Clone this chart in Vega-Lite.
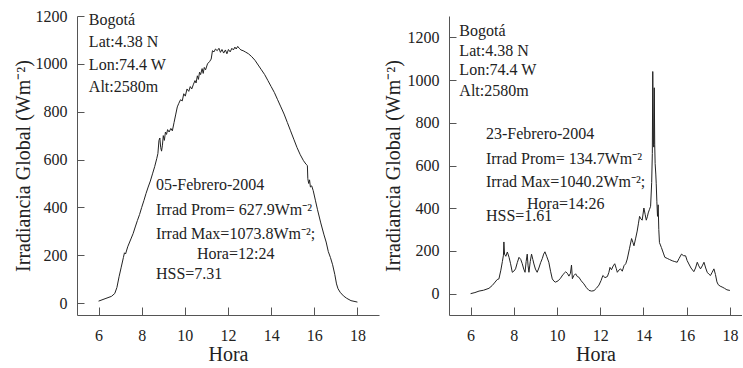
{
  "$schema": "https://vega.github.io/schema/vega-lite/v6.json",
  "padding": {"left": 13, "top": 8, "right": 0, "bottom": 0},
  "spacing": 4,
  "config": {
    "view": {"stroke": null},
    "font": "Liberation Serif",
    "axis": {
      "grid": false,
      "domainColor": "#555",
      "tickColor": "#555",
      "labelColor": "#222",
      "titleColor": "#222",
      "labelFont": "Liberation Serif",
      "titleFont": "Liberation Serif",
      "labelFontSize": 16,
      "titleFontSize": 20,
      "titleFontWeight": "normal",
      "tickSize": {"condition": {"test": "datum.value % 200 === 0", "value": -7}, "value": -4}
    }
  },
  "datasets": {
    "feb05": [
      {"hora": 6.0, "irr": 8}, {"hora": 6.3, "irr": 18}, {"hora": 6.6, "irr": 28}, {"hora": 6.75, "irr": 40},
      {"hora": 6.85, "irr": 65}, {"hora": 6.95, "irr": 110}, {"hora": 7.05, "irr": 150}, {"hora": 7.15, "irr": 190},
      {"hora": 7.2, "irr": 210}, {"hora": 7.25, "irr": 205}, {"hora": 7.35, "irr": 235}, {"hora": 7.5, "irr": 268},
      {"hora": 7.6, "irr": 290}, {"hora": 7.7, "irr": 318}, {"hora": 7.8, "irr": 345}, {"hora": 7.9, "irr": 370},
      {"hora": 8.0, "irr": 400}, {"hora": 8.1, "irr": 428}, {"hora": 8.2, "irr": 458}, {"hora": 8.3, "irr": 485},
      {"hora": 8.4, "irr": 510}, {"hora": 8.5, "irr": 540}, {"hora": 8.6, "irr": 570}, {"hora": 8.7, "irr": 605},
      {"hora": 8.75, "irr": 625}, {"hora": 8.8, "irr": 680}, {"hora": 8.84, "irr": 690}, {"hora": 8.88, "irr": 650},
      {"hora": 8.92, "irr": 635}, {"hora": 8.96, "irr": 660}, {"hora": 9.0, "irr": 700}, {"hora": 9.05, "irr": 680},
      {"hora": 9.1, "irr": 715}, {"hora": 9.15, "irr": 705}, {"hora": 9.2, "irr": 725}, {"hora": 9.27, "irr": 715},
      {"hora": 9.35, "irr": 730}, {"hora": 9.42, "irr": 720}, {"hora": 9.5, "irr": 755}, {"hora": 9.58, "irr": 790},
      {"hora": 9.65, "irr": 820}, {"hora": 9.72, "irr": 835}, {"hora": 9.8, "irr": 850}, {"hora": 9.88, "irr": 845},
      {"hora": 9.95, "irr": 875}, {"hora": 10.02, "irr": 865}, {"hora": 10.1, "irr": 895}, {"hora": 10.18, "irr": 885},
      {"hora": 10.25, "irr": 905}, {"hora": 10.32, "irr": 895}, {"hora": 10.4, "irr": 915}, {"hora": 10.47, "irr": 930},
      {"hora": 10.52, "irr": 920}, {"hora": 10.58, "irr": 950}, {"hora": 10.63, "irr": 935}, {"hora": 10.68, "irr": 965},
      {"hora": 10.73, "irr": 955}, {"hora": 10.8, "irr": 980}, {"hora": 10.85, "irr": 960}, {"hora": 10.9, "irr": 985},
      {"hora": 10.96, "irr": 975}, {"hora": 11.05, "irr": 1000}, {"hora": 11.15, "irr": 1010}, {"hora": 11.22, "irr": 1020},
      {"hora": 11.28, "irr": 1055}, {"hora": 11.35, "irr": 1050}, {"hora": 11.42, "irr": 1062}, {"hora": 11.5, "irr": 1055},
      {"hora": 11.58, "irr": 1065}, {"hora": 11.65, "irr": 1048}, {"hora": 11.72, "irr": 1060}, {"hora": 11.8, "irr": 1045},
      {"hora": 11.88, "irr": 1058}, {"hora": 11.95, "irr": 1042}, {"hora": 12.02, "irr": 1060}, {"hora": 12.1, "irr": 1050},
      {"hora": 12.18, "irr": 1065}, {"hora": 12.25, "irr": 1058}, {"hora": 12.32, "irr": 1070}, {"hora": 12.38, "irr": 1062},
      {"hora": 12.45, "irr": 1073}, {"hora": 12.52, "irr": 1065}, {"hora": 12.6, "irr": 1058}, {"hora": 12.7, "irr": 1055},
      {"hora": 12.8, "irr": 1050}, {"hora": 12.95, "irr": 1042}, {"hora": 13.1, "irr": 1030}, {"hora": 13.25, "irr": 1015},
      {"hora": 13.4, "irr": 995}, {"hora": 13.55, "irr": 975}, {"hora": 13.7, "irr": 955}, {"hora": 13.85, "irr": 930},
      {"hora": 14.0, "irr": 905}, {"hora": 14.15, "irr": 880}, {"hora": 14.3, "irr": 850}, {"hora": 14.45, "irr": 820},
      {"hora": 14.6, "irr": 790}, {"hora": 14.75, "irr": 755}, {"hora": 14.9, "irr": 720}, {"hora": 15.05, "irr": 685},
      {"hora": 15.2, "irr": 650}, {"hora": 15.35, "irr": 620}, {"hora": 15.5, "irr": 595}, {"hora": 15.62, "irr": 580},
      {"hora": 15.68, "irr": 575}, {"hora": 15.7, "irr": 520}, {"hora": 15.74, "irr": 500}, {"hora": 15.78, "irr": 515},
      {"hora": 15.82, "irr": 485}, {"hora": 15.88, "irr": 490}, {"hora": 15.95, "irr": 470}, {"hora": 16.05, "irr": 430},
      {"hora": 16.15, "irr": 390}, {"hora": 16.3, "irr": 335}, {"hora": 16.45, "irr": 285}, {"hora": 16.55, "irr": 255},
      {"hora": 16.65, "irr": 215}, {"hora": 16.75, "irr": 190}, {"hora": 16.85, "irr": 160}, {"hora": 16.95, "irr": 120},
      {"hora": 17.03, "irr": 80}, {"hora": 17.1, "irr": 60}, {"hora": 17.2, "irr": 45}, {"hora": 17.35, "irr": 30},
      {"hora": 17.5, "irr": 20}, {"hora": 17.7, "irr": 10}, {"hora": 18.0, "irr": 4}
    ],
    "feb23": [
      {"hora": 6.0, "irr": 0}, {"hora": 6.2, "irr": 5}, {"hora": 6.39, "irr": 12}, {"hora": 6.6, "irr": 16},
      {"hora": 6.85, "irr": 25}, {"hora": 7.0, "irr": 38}, {"hora": 7.1, "irr": 50}, {"hora": 7.23, "irr": 66},
      {"hora": 7.31, "irr": 69}, {"hora": 7.4, "irr": 110}, {"hora": 7.47, "irr": 150}, {"hora": 7.52, "irr": 180},
      {"hora": 7.54, "irr": 242}, {"hora": 7.57, "irr": 185}, {"hora": 7.63, "irr": 175}, {"hora": 7.7, "irr": 195},
      {"hora": 7.78, "irr": 170}, {"hora": 7.85, "irr": 140}, {"hora": 7.93, "irr": 100}, {"hora": 8.0, "irr": 105},
      {"hora": 8.08, "irr": 116}, {"hora": 8.16, "irr": 145}, {"hora": 8.24, "irr": 170}, {"hora": 8.32, "irr": 160},
      {"hora": 8.39, "irr": 140}, {"hora": 8.46, "irr": 115}, {"hora": 8.52, "irr": 100}, {"hora": 8.57, "irr": 150},
      {"hora": 8.62, "irr": 185}, {"hora": 8.66, "irr": 130}, {"hora": 8.7, "irr": 100}, {"hora": 8.76, "irr": 150},
      {"hora": 8.82, "irr": 185}, {"hora": 8.88, "irr": 160}, {"hora": 8.93, "irr": 139}, {"hora": 9.0, "irr": 115},
      {"hora": 9.08, "irr": 100}, {"hora": 9.16, "irr": 120}, {"hora": 9.24, "irr": 145}, {"hora": 9.32, "irr": 165},
      {"hora": 9.38, "irr": 185}, {"hora": 9.44, "irr": 196}, {"hora": 9.52, "irr": 175}, {"hora": 9.62, "irr": 147},
      {"hora": 9.7, "irr": 105}, {"hora": 9.78, "irr": 69}, {"hora": 9.86, "irr": 58}, {"hora": 9.93, "irr": 54},
      {"hora": 10.05, "irr": 60}, {"hora": 10.16, "irr": 72}, {"hora": 10.28, "irr": 90}, {"hora": 10.4, "irr": 102},
      {"hora": 10.48, "irr": 95}, {"hora": 10.55, "irr": 82}, {"hora": 10.62, "irr": 95}, {"hora": 10.67, "irr": 134},
      {"hora": 10.71, "irr": 70}, {"hora": 10.78, "irr": 85}, {"hora": 10.86, "irr": 93}, {"hora": 10.94, "irr": 80},
      {"hora": 11.01, "irr": 77}, {"hora": 11.12, "irr": 60}, {"hora": 11.24, "irr": 46}, {"hora": 11.36, "irr": 28},
      {"hora": 11.48, "irr": 15}, {"hora": 11.6, "irr": 12}, {"hora": 11.71, "irr": 14}, {"hora": 11.82, "irr": 25},
      {"hora": 11.94, "irr": 40}, {"hora": 12.04, "irr": 62}, {"hora": 12.12, "irr": 85}, {"hora": 12.22, "irr": 75},
      {"hora": 12.33, "irr": 80}, {"hora": 12.4, "irr": 100}, {"hora": 12.45, "irr": 123}, {"hora": 12.52, "irr": 112},
      {"hora": 12.6, "irr": 130}, {"hora": 12.67, "irr": 140}, {"hora": 12.74, "irr": 118}, {"hora": 12.79, "irr": 100},
      {"hora": 12.86, "irr": 110}, {"hora": 12.94, "irr": 116}, {"hora": 13.02, "irr": 105}, {"hora": 13.1, "irr": 131},
      {"hora": 13.18, "irr": 140}, {"hora": 13.25, "irr": 162}, {"hora": 13.35, "irr": 210}, {"hora": 13.45, "irr": 258},
      {"hora": 13.51, "irr": 240}, {"hora": 13.56, "irr": 224}, {"hora": 13.64, "irr": 260}, {"hora": 13.71, "irr": 293},
      {"hora": 13.77, "irr": 330}, {"hora": 13.82, "irr": 362}, {"hora": 13.88, "irr": 350}, {"hora": 13.94, "irr": 344},
      {"hora": 14.02, "irr": 401}, {"hora": 14.08, "irr": 370}, {"hora": 14.13, "irr": 344}, {"hora": 14.18, "irr": 360},
      {"hora": 14.22, "irr": 378}, {"hora": 14.28, "irr": 395}, {"hora": 14.33, "irr": 409}, {"hora": 14.38, "irr": 520},
      {"hora": 14.41, "irr": 656}, {"hora": 14.43, "irr": 1040}, {"hora": 14.46, "irr": 700}, {"hora": 14.48, "irr": 686},
      {"hora": 14.5, "irr": 964}, {"hora": 14.52, "irr": 700}, {"hora": 14.54, "irr": 609}, {"hora": 14.57, "irr": 560},
      {"hora": 14.59, "irr": 517}, {"hora": 14.62, "irr": 430}, {"hora": 14.65, "irr": 362}, {"hora": 14.68, "irr": 416},
      {"hora": 14.71, "irr": 300}, {"hora": 14.74, "irr": 239}, {"hora": 14.83, "irr": 216}, {"hora": 14.92, "irr": 190},
      {"hora": 14.99, "irr": 170}, {"hora": 15.1, "irr": 165}, {"hora": 15.2, "irr": 160}, {"hora": 15.33, "irr": 154},
      {"hora": 15.45, "irr": 150}, {"hora": 15.56, "irr": 147}, {"hora": 15.65, "irr": 165}, {"hora": 15.76, "irr": 185},
      {"hora": 15.85, "irr": 178}, {"hora": 15.95, "irr": 177}, {"hora": 16.02, "irr": 155}, {"hora": 16.1, "irr": 139},
      {"hora": 16.2, "irr": 120}, {"hora": 16.33, "irr": 103}, {"hora": 16.41, "irr": 120}, {"hora": 16.49, "irr": 147},
      {"hora": 16.56, "irr": 130}, {"hora": 16.64, "irr": 116}, {"hora": 16.72, "irr": 130}, {"hora": 16.8, "irr": 147},
      {"hora": 16.88, "irr": 120}, {"hora": 16.95, "irr": 100}, {"hora": 17.02, "irr": 92}, {"hora": 17.1, "irr": 85},
      {"hora": 17.18, "irr": 100}, {"hora": 17.26, "irr": 116}, {"hora": 17.33, "irr": 90}, {"hora": 17.4, "irr": 55},
      {"hora": 17.46, "irr": 42}, {"hora": 17.55, "irr": 35}, {"hora": 17.64, "irr": 31}, {"hora": 17.75, "irr": 25},
      {"hora": 17.86, "irr": 18}, {"hora": 18.0, "irr": 15}
    ],
    "ann05": [
      {"x": 5.55, "y": 1185, "label": "Bogotá"},
      {"x": 5.55, "y": 1090, "label": "Lat:4.38 N"},
      {"x": 5.55, "y": 995, "label": "Lon:74.4 W"},
      {"x": 5.55, "y": 905, "label": "Alt:2580m"},
      {"x": 8.66, "y": 494, "label": "05-Febrero-2004"},
      {"x": 8.66, "y": 391, "label": "Irrad Prom= 627.9Wm⁻²"},
      {"x": 8.66, "y": 288, "label": "Irrad Max=1073.8Wm⁻²;"},
      {"x": 10.56, "y": 206, "label": "Hora=12:24"},
      {"x": 8.66, "y": 123, "label": "HSS=7.31"}
    ],
    "ann23": [
      {"x": 5.48, "y": 1231, "label": "Bogotá"},
      {"x": 5.48, "y": 1138, "label": "Lat:4.38 N"},
      {"x": 5.48, "y": 1046, "label": "Lon:74.4 W"},
      {"x": 5.48, "y": 949, "label": "Alt:2580m"},
      {"x": 6.71, "y": 746, "label": "23-Febrero-2004"},
      {"x": 6.71, "y": 630, "label": "Irrad Prom= 134.7Wm⁻²"},
      {"x": 6.71, "y": 524, "label": "Irrad Max=1040.2Wm⁻²;"},
      {"x": 8.61, "y": 422, "label": "Hora=14:26"},
      {"x": 6.71, "y": 362, "label": "HSS=1.61"}
    ]
  },
  "hconcat": [
    {
      "width": 302,
      "height": 299,
      "layer": [
        {
          "data": {"name": "feb05"},
          "mark": {"type": "line", "color": "#222", "strokeWidth": 1},
          "encoding": {
            "x": {"field": "hora", "type": "quantitative", "scale": {"domain": [5, 19], "nice": false},
              "axis": {"title": "Hora", "values": [6,7,8,9,10,11,12,13,14,15,16,17,18],
                "labelExpr": "datum.value % 2 === 0 ? datum.label : ''", "labelPadding": 20, "titlePadding": 1,
                "tickSize": {"condition": {"test": "datum.value % 2 === 0", "value": -8}, "value": -4}}},
            "y": {"field": "irr", "type": "quantitative", "scale": {"domain": [-50, 1200], "nice": false},
              "axis": {"title": "Irradiancia Global (Wm⁻²)", "values": [0,100,200,300,400,500,600,700,800,900,1000,1100,1200],
                "labelExpr": "datum.value % 200 === 0 ? datum.label : ''", "format": "d", "labelPadding": 17, "titlePadding": 2}}
          }
        },
        {
          "data": {"name": "ann05"},
          "mark": {"type": "text", "align": "left", "baseline": "middle", "fontSize": 16, "font": "Liberation Serif", "color": "#222"},
          "encoding": {
            "x": {"field": "x", "type": "quantitative"},
            "y": {"field": "y", "type": "quantitative"},
            "text": {"field": "label"}
          }
        }
      ]
    },
    {
      "width": 293,
      "height": 299,
      "layer": [
        {
          "data": {"name": "feb23"},
          "mark": {"type": "line", "color": "#222", "strokeWidth": 1},
          "encoding": {
            "x": {"field": "hora", "type": "quantitative", "scale": {"domain": [5, 18.56], "nice": false},
              "axis": {"title": "Hora", "values": [6,7,8,9,10,11,12,13,14,15,16,17,18],
                "labelExpr": "datum.value % 2 === 0 ? datum.label : ''", "labelPadding": 20, "titlePadding": 1,
                "tickSize": {"condition": {"test": "datum.value % 2 === 0", "value": -8}, "value": -4}}},
            "y": {"field": "irr", "type": "quantitative", "scale": {"domain": [-100, 1300], "nice": false},
              "axis": {"title": "Irradiancia Global (Wm⁻²)", "values": [0,100,200,300,400,500,600,700,800,900,1000,1100,1200,1300],
                "labelExpr": "datum.value % 200 === 0 ? datum.label : ''", "format": "d", "labelPadding": 17, "titlePadding": 4}}
          }
        },
        {
          "data": {"name": "ann23"},
          "mark": {"type": "text", "align": "left", "baseline": "middle", "fontSize": 16, "font": "Liberation Serif", "color": "#222"},
          "encoding": {
            "x": {"field": "x", "type": "quantitative"},
            "y": {"field": "y", "type": "quantitative"},
            "text": {"field": "label"}
          }
        }
      ]
    }
  ]
}
